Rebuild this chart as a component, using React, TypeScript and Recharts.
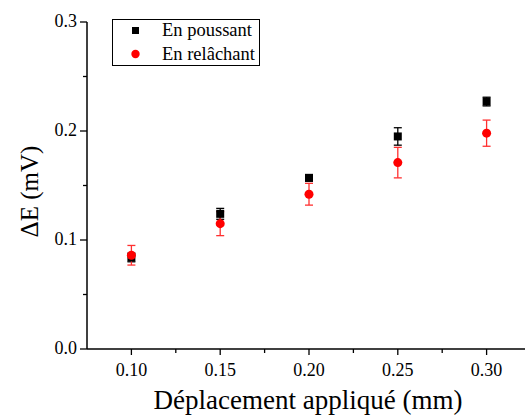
import React from "react";
import {
  ScatterChart,
  Scatter,
  XAxis,
  YAxis,
  ErrorBar,
  Legend,
} from "recharts";

const displacements = [0.1, 0.15, 0.2, 0.25, 0.3];
const pushValues = [0.084, 0.124, 0.157, 0.195, 0.227];
const pushErrors = [0.004, 0.005, 0.003, 0.008, 0.004];
const releaseValues = [0.086, 0.115, 0.142, 0.171, 0.198];
const releaseErrors = [0.009, 0.011, 0.01, 0.014, 0.012];

const xTicks = [0.1, 0.125, 0.15, 0.175, 0.2, 0.225, 0.25, 0.275, 0.3];
const yTicks = [0, 0.05, 0.1, 0.15, 0.2, 0.25, 0.3];
const xMajor = [0.1, 0.15, 0.2, 0.25, 0.3];
const yMajor = [0, 0.1, 0.2, 0.3];

const FONT = "'Liberation Serif', 'Times New Roman', serif";

const pushData = displacements.map((x, i) => ({ x, y: pushValues[i], err: pushErrors[i] }));
const releaseData = displacements.map((x, i) => ({ x, y: releaseValues[i], err: releaseErrors[i] }));

const isMajor = (list: number[], v: number) => list.some((m) => Math.abs(m - v) < 1e-6);

const XTick = (props: any) => {
  const { x, y, payload } = props;
  const major = isMajor(xMajor, payload.value);
  return (
    <g>
      <line x1={x} x2={x} y1={y} y2={y + (major ? 6 : 4)} stroke="#000" strokeWidth={1.3} />
      {major && (
        <text x={x} y={y + 27} textAnchor="middle" fontSize={18} fontFamily={FONT} fill="#000">
          {payload.value.toFixed(2)}
        </text>
      )}
    </g>
  );
};

const YTick = (props: any) => {
  const { x, y, payload } = props;
  const major = isMajor(yMajor, payload.value);
  return (
    <g>
      <line x1={x} x2={x - (major ? 7 : 4)} y1={y} y2={y} stroke="#000" strokeWidth={1.3} />
      {major && (
        <text x={x - 10} y={y + 5} textAnchor="end" fontSize={18} fontFamily={FONT} fill="#000">
          {payload.value.toFixed(1)}
        </text>
      )}
    </g>
  );
};

const LegendBox = () => (
  <div
    style={{
      border: "1px solid #000",
      width: 148,
      height: 47,
      boxSizing: "border-box",
      background: "#fff",
      position: "relative",
    }}
  >
    <svg width={148} height={47} style={{ position: "absolute", left: -1, top: -1 }}>
      <rect x={20} y={8} width={7} height={7} fill="#000" />
      <circle cx={23.5} cy={35} r={4.2} fill="#ff0000" />
      <text x={50} y={17} fontSize={18.5} fontFamily={FONT} fill="#000">En poussant</text>
      <text x={50} y={41} fontSize={18.5} fontFamily={FONT} fill="#000">En relâchant</text>
    </svg>
  </div>
);

export default function App() {
  return (
    <div style={{ position: "absolute", left: 0, top: 0, width: 525, height: 419, overflow: "hidden", background: "#fff" }}>
      <ScatterChart width={540} height={419} margin={{ top: 22, right: 9, bottom: 0, left: 0 }}>
        <XAxis
          type="number"
          dataKey="x"
          domain={[0.075, 0.325]}
          ticks={xTicks}
          interval={0}
          tickSize={0}
          tickMargin={0}
          tickLine={false}
          tick={<XTick />}
          height={70}
          axisLine={{ stroke: "#000", strokeWidth: 1.5 }}
          label={(p: any) => (
            <text
              x={p.viewBox.x + p.viewBox.width / 2 - 1}
              y={p.viewBox.y + 60}
              textAnchor="middle"
              fontSize={27}
              fontFamily={FONT}
              fill="#000"
            >
              Déplacement appliqué (mm)
            </text>
          )}
        />
        <YAxis
          type="number"
          dataKey="y"
          domain={[0, 0.3]}
          ticks={yTicks}
          interval={0}
          tickSize={0}
          tickMargin={0}
          tickLine={false}
          tick={<YTick />}
          width={87}
          axisLine={{ stroke: "#000", strokeWidth: 1.5 }}
          label={(p: any) => (
            <text
              transform={`rotate(-90, 38, ${p.viewBox.y + p.viewBox.height / 2 + 6})`}
              x={38}
              y={p.viewBox.y + p.viewBox.height / 2 + 6}
              textAnchor="middle"
              fontSize={25}
              fontFamily={FONT}
              fill="#000"
            >
              ΔE (mV)
            </text>
          )}
        />
        <Legend
          layout="horizontal"
          align="center"
          verticalAlign="middle"
          content={<LegendBox />}
          wrapperStyle={{ left: 112, top: 19, width: 148, height: 47 }}
        />
        <Scatter name="En poussant" data={pushData} fill="#000" shape="square" isAnimationActive={false}>
          <ErrorBar dataKey="err" direction="y" width={4} stroke="#000" strokeWidth={1.3} />
        </Scatter>
        <Scatter name="En relâchant" data={releaseData} fill="#ff0000" shape="circle" isAnimationActive={false}>
          <ErrorBar dataKey="err" direction="y" width={4} stroke="#ff3030" strokeWidth={1.3} />
        </Scatter>
      </ScatterChart>
    </div>
  );
}
